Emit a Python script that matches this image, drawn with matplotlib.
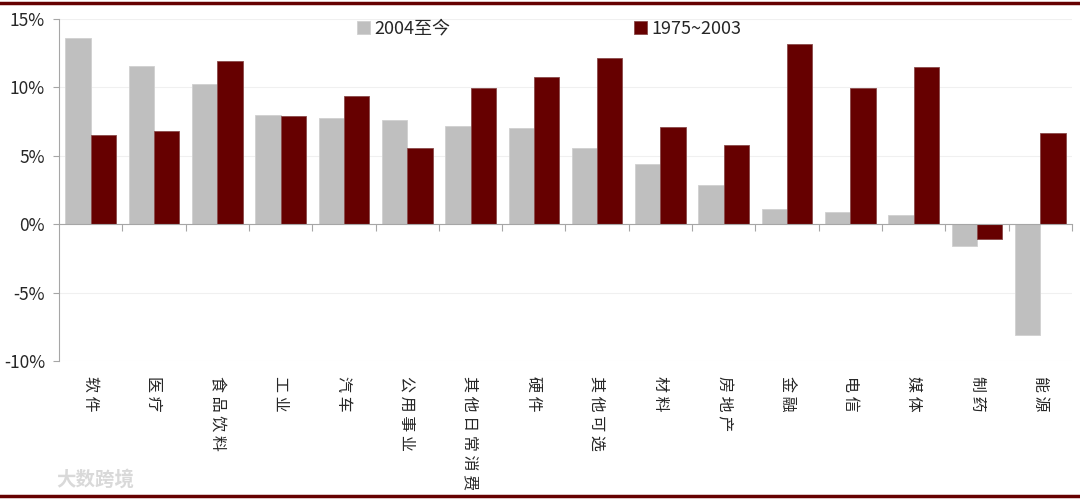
import numpy as np
import matplotlib.pyplot as plt
from matplotlib.lines import Line2D
from matplotlib.ticker import FuncFormatter

plt.rcParams['font.family'] = ['Noto Sans CJK SC', 'DejaVu Sans']

sectors = ['软件', '医疗', '食品饮料', '工业', '汽车', '公用事业', '其他日常消费', '硬件',
           '其他可选', '材料', '房地产', '金融', '电信', '媒体', '制药', '能源']
ret_2004 = [13.6, 11.6, 10.25, 8.0, 7.75, 7.6, 7.2, 7.0,
            5.6, 4.4, 2.85, 1.1, 0.9, 0.65, -1.6, -8.1]
ret_1975 = [6.5, 6.8, 11.9, 7.9, 9.4, 5.6, 9.95, 10.75,
            12.15, 7.1, 5.8, 13.2, 9.95, 11.5, -1.1, 6.65]
label_2004 = '2004至今'
label_1975 = '1975~2003'

gray = '#BFBFBF'
dark = '#660000'
axis_col = '#A6A6A6'

fig = plt.figure(figsize=(10.8, 5), dpi=100)
ax = fig.add_axes([0.0546, 0.278, 0.938, 0.684])

x = np.arange(len(sectors))
w = 0.4
ax.bar(x - w / 2, ret_2004, w, color=gray, edgecolor='#D0D0D0', linewidth=0.6, label=label_2004, zorder=3)
ax.bar(x + w / 2, ret_1975, w, color=dark, edgecolor='#8A4A4A', linewidth=0.6, label=label_1975, zorder=3)

ax.set_xlim(-0.5, len(sectors) - 0.5)
ax.set_ylim(-10, 15)
ax.set_yticks([-10, -5, 0, 5, 10, 15])
ax.yaxis.set_major_formatter(FuncFormatter(lambda v, p: '{:.0f}%'.format(v)))
ax.grid(axis='y', color='#F0F0F0', linewidth=0.8, zorder=0)

for s in ['top', 'right']:
    ax.spines[s].set_visible(False)
ax.spines['bottom'].set_position(('data', 0))
ax.spines['bottom'].set_color(axis_col)
ax.spines['left'].set_color(axis_col)
ax.spines['bottom'].set_zorder(4)

# tick marks sit on the category boundaries
ax.set_xticks(np.arange(len(sectors)) + 0.5)
ax.set_xticklabels([])
ax.tick_params(axis='x', direction='out', length=5, color=axis_col)
ax.tick_params(axis='y', direction='out', length=4, color=axis_col, labelsize=12.5, pad=6, labelcolor='#262626')

for i, name in enumerate(sectors):
    ax.text(i, -0.045, ' '.join(name), transform=ax.get_xaxis_transform(), rotation=-90,
            ha='center', va='top', fontsize=11.5, color='#262626')

ax.legend(loc='upper center', bbox_to_anchor=(0.484, 1.045), ncol=2, frameon=False,
          fontsize=13, columnspacing=10.2, handlelength=0.7, handleheight=0.7,
          handletextpad=0.25, labelcolor='#262626')

fig.add_artist(Line2D([0, 1], [0.994, 0.994], color=dark, linewidth=2.5, transform=fig.transFigure))
fig.add_artist(Line2D([0, 1], [0.008, 0.008], color=dark, linewidth=2.5, transform=fig.transFigure))
fig.text(0.052, 0.04, '大数跨境', fontsize=14, color='#D9D9D9', fontweight='bold', ha='left', va='center')

fig.savefig('out.png', dpi=100)
